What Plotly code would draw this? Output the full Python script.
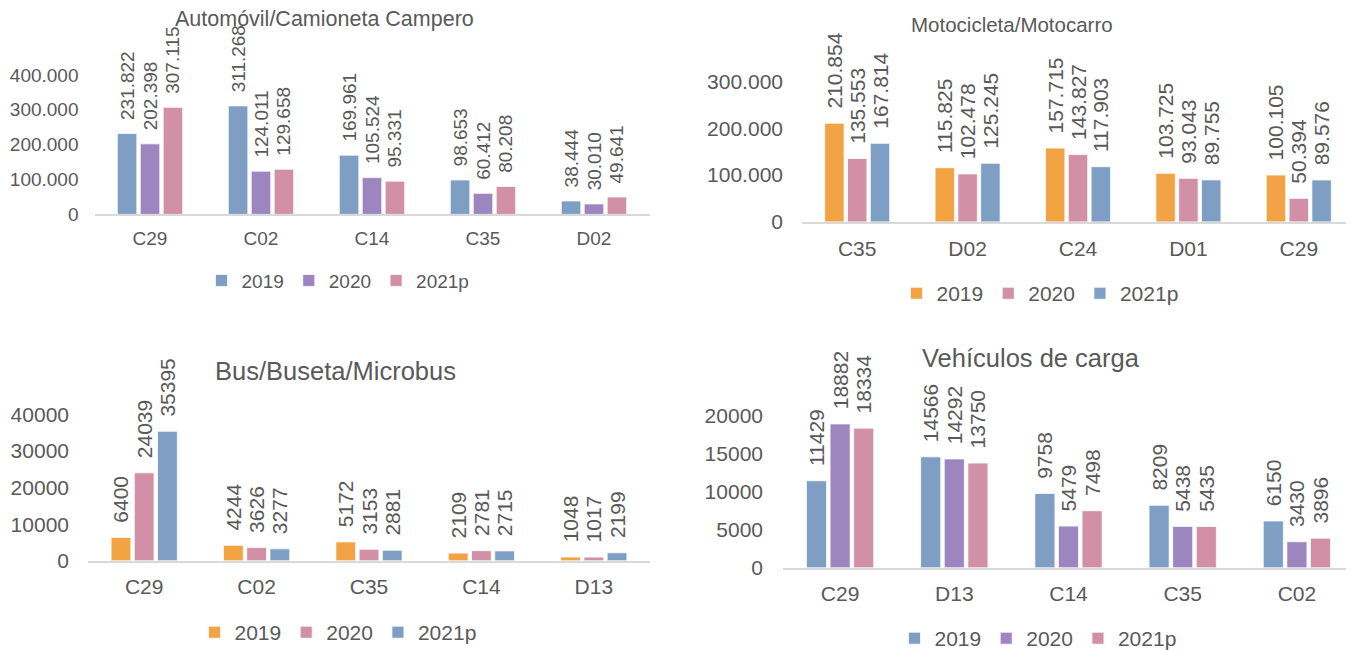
import plotly.graph_objects as go

# ---------------- data ----------------
series_names = ["2019", "2020", "2021p"]

auto_cats = ["C29", "C02", "C14", "C35", "D02"]
auto_2019 = [231822, 311268, 169961, 98653, 38444]
auto_2020 = [202398, 124011, 105524, 60412, 30010]
auto_2021 = [307115, 129658, 95331, 80208, 49641]

moto_cats = ["C35", "D02", "C24", "D01", "C29"]
moto_2019 = [210854, 115825, 157715, 103725, 100105]
moto_2020 = [135553, 102478, 143827, 93043, 50394]
moto_2021 = [167814, 125245, 117903, 89755, 89576]

bus_cats = ["C29", "C02", "C35", "C14", "D13"]
bus_2019 = [6400, 4244, 5172, 2109, 1048]
bus_2020 = [24039, 3626, 3153, 2781, 1017]
bus_2021 = [35395, 3277, 2881, 2715, 2199]

carga_cats = ["C29", "D13", "C14", "C35", "C02"]
carga_2019 = [11429, 14566, 9758, 8209, 6150]
carga_2020 = [18882, 14292, 5479, 5438, 3430]
carga_2021 = [18334, 13750, 7498, 5435, 3896]

titles = ["Automóvil/Camioneta Campero", "Motocicleta/Motocarro",
          "Bus/Buseta/Microbus", "Vehículos de carga"]

# ---------------- styles ----------------
BLUE = "#7F9EC4"
PURPLE = "#9D86C0"
PINK = "#D190A5"
ORANGE = "#F2A444"
TXT = "#595959"
AXIS = "#D9D9D9"
FONT = "Liberation Sans, Arial, sans-serif"
OFF = 8          # page body margin
YOFF, YS = 8.2, 0.9806   # observed vertical placement of the page
W, H = 1354 - OFF, 660


def px_x(p):
    return (p - OFF) / W


def fig_y(p):
    return (p - YOFF) / YS


def px_y(p):
    return 1 - fig_y(p) / H


def dotted(v):
    return f"{v:,}".replace(",", ".")


panels = [
    dict(cats=auto_cats, vals=[auto_2019, auto_2020, auto_2021], colors=[BLUE, PURPLE, PINK],
         dots=True, fs=19, tfs=21.5, xd=(94.5, 649.5), y0px=214, y100=75, ytop=450000,
         dtick=100000, tref=400000, title_xy=(324, 19), leg_xy=(338, 280), ystand=15, xstand=6),
    dict(cats=moto_cats, vals=[moto_2019, moto_2020, moto_2021], colors=[ORANGE, PINK, BLUE],
         dots=True, fs=21, tfs=20.5, xd=(802, 1354), y0px=221.5, y100=81.5, ytop=350000,
         dtick=100000, tref=300000, title_xy=(1012, 25), leg_xy=(1040, 293), ystand=18, xstand=7),
    dict(cats=bus_cats, vals=[bus_2019, bus_2020, bus_2021], colors=[ORANGE, PINK, BLUE],
         dots=False, fs=21, tfs=25.5, xd=(88, 650), y0px=559.5, y100=413.5, ytop=45000,
         dtick=10000, tref=40000, title_xy=(335, 370), leg_xy=(338, 631), ystand=18, xstand=6),
    dict(cats=carga_cats, vals=[carga_2019, carga_2020, carga_2021], colors=[BLUE, PURPLE, PINK],
         dots=False, fs=21, tfs=25.5, xd=(783, 1354), y0px=566.5, y100=414.5, ytop=24900,
         dtick=5000, tref=20000, title_xy=(1031, 357), leg_xy=(1038, 637), ystand=19, xstand=6),
]

fig = go.Figure()
layout = dict(
    width=W, height=H, margin=dict(l=0, r=0, t=0, b=0),
    paper_bgcolor="white", plot_bgcolor="white",
    barmode="group", bargap=0.38, bargroupgap=0.15,
    separators=",.",
    font=dict(family=FONT, color=TXT),
    showlegend=True,
    annotations=[],
)

for i, p in enumerate(panels):
    n = i + 1
    xa = "x" if n == 1 else f"x{n}"
    ya = "y" if n == 1 else f"y{n}"
    leg = "legend" if n == 1 else f"legend{n}"
    for name, vals, col in zip(series_names, p["vals"], p["colors"]):
        labels = [("\u00a0\u00a0" + (dotted(v) if p["dots"] else str(v))) for v in vals]
        fig.add_trace(go.Bar(
            x=p["cats"], y=vals, name=name, xaxis=xa, yaxis=ya, legend=leg,
            marker=dict(color=col, line=dict(color="white", width=0.75)),
            text=labels, textposition="outside", textangle=-90,
            constraintext="none", cliponaxis=False,
            textfont=dict(size=p["fs"], color=TXT, family=FONT),
            hoverinfo="skip",
        ))
    # screen pixels per unit, from the zero line and the top labelled tick
    per_unit = (p["y0px"] - p["y100"]) / p["tref"]
    ytop_px = p["y0px"] - p["ytop"] * per_unit
    layout["xaxis" if n == 1 else f"xaxis{n}"] = dict(
        domain=[px_x(p["xd"][0]), min(1.0, px_x(p["xd"][1]))], anchor=ya,
        showline=True, linecolor=AXIS, linewidth=1.5, showgrid=False, zeroline=False,
        ticks="", tickfont=dict(size=p["fs"], color=TXT), ticklabelstandoff=p["xstand"],
        fixedrange=True,
    )
    layout["yaxis" if n == 1 else f"yaxis{n}"] = dict(
        domain=[px_y(p["y0px"]), px_y(ytop_px)], anchor=xa,
        range=[0, p["ytop"]], dtick=p["dtick"], tick0=0,
        tickformat=",d" if p["dots"] else "d",
        showline=False, showgrid=False, zeroline=False, ticks="",
        tickfont=dict(size=p["fs"], color=TXT), ticklabelstandoff=p["ystand"],
        fixedrange=True,
    )
    layout[leg] = dict(
        orientation="h", xanchor="center", yanchor="middle",
        x=px_x(p["leg_xy"][0]), y=px_y(p["leg_xy"][1]),
        font=dict(size=p["fs"], color=TXT, family=FONT),
        bgcolor="rgba(0,0,0,0)", itemwidth=30, traceorder="normal",
    )
    layout["annotations"].append(dict(
        text=titles[i], xref="paper", yref="paper",
        x=px_x(p["title_xy"][0]), y=px_y(p["title_xy"][1]),
        xanchor="center", yanchor="middle", showarrow=False,
        font=dict(size=p["tfs"], color=TXT, family=FONT),
    ))

fig.update_layout(**layout)
fig.write_html("out.html")
